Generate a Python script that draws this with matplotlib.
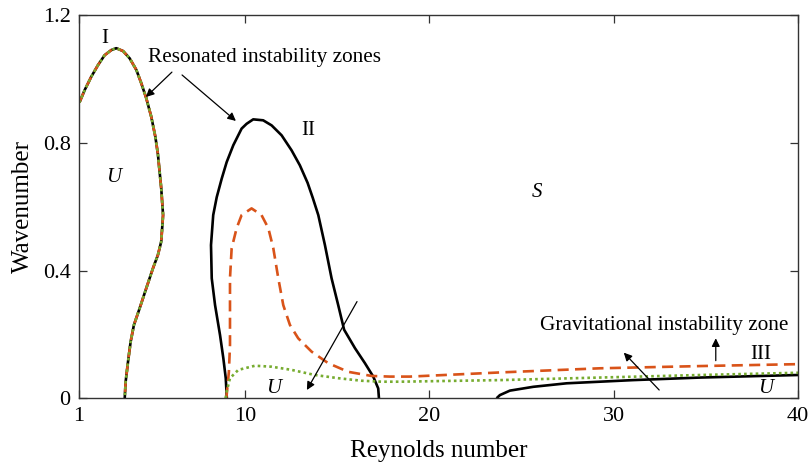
import matplotlib
matplotlib.use("Agg")
import matplotlib.pyplot as plt

plt.rcParams["font.family"] = ["Liberation Serif", "DejaVu Serif"]

# Zone I: all three criteria share the same neutral curve
zone1_re = [1.0, 1.04, 1.31, 1.67, 2.03, 2.39, 2.75, 3.02, 3.39, 3.75, 4.11, 4.38,
            4.65, 4.92, 5.14, 5.28, 5.46, 5.56, 5.46, 5.28, 5.01, 4.65, 4.29, 3.98,
            3.80, 3.66, 3.53, 3.48]
zone1_k = [0.933, 0.929, 0.966, 1.008, 1.044, 1.075, 1.091, 1.097, 1.088, 1.065,
           1.029, 0.987, 0.940, 0.882, 0.820, 0.765, 0.658, 0.574, 0.491, 0.449,
           0.407, 0.345, 0.282, 0.230, 0.177, 0.115, 0.052, 0.0]

# Zone II, solid criterion
solid2_re = [9.02, 8.96, 8.83, 8.65, 8.38, 8.2, 8.16, 8.28, 8.47, 8.74, 9.01, 9.37,
             9.82, 10.09, 10.45, 10.99, 11.45, 11.99, 12.53, 12.98, 13.40, 13.68,
             13.98, 14.34, 14.70, 15.06, 15.38, 15.97, 16.51, 16.96, 17.23, 17.27]
solid2_k = [0.0, 0.063, 0.125, 0.198, 0.292, 0.376, 0.480, 0.574, 0.630, 0.688,
            0.740, 0.793, 0.845, 0.860, 0.874, 0.871, 0.855, 0.824, 0.777, 0.730,
            0.675, 0.628, 0.574, 0.480, 0.376, 0.292, 0.215, 0.157, 0.110, 0.068,
            0.031, 0.0]

# Zone III, solid criterion
solid3_re = [23.65, 23.83, 24.37, 25.64, 27.45, 31.06, 34.7, 40.0]
solid3_k = [0.0, 0.01, 0.024, 0.036, 0.047, 0.057, 0.065, 0.073]

# Dashed criterion beyond zone I
dashed_re = [8.98, 9.01, 9.13, 9.19, 9.19, 9.19, 9.28, 9.55, 9.82, 10.36, 10.9,
             11.27, 11.54, 11.81, 12.08, 12.44, 12.89, 13.62, 14.52, 15.6, 16.87,
             17.86, 18.95, 23.83, 29.25, 34.7, 40.0]
dashed_k = [0.0, 0.010, 0.083, 0.167, 0.271, 0.376, 0.470, 0.533, 0.574, 0.595,
            0.574, 0.533, 0.470, 0.376, 0.292, 0.230, 0.188, 0.146, 0.110, 0.083,
            0.070, 0.068, 0.068, 0.081, 0.094, 0.101, 0.107]

# Dotted criterion beyond zone I
dotted_re = [8.95, 9.01, 9.19, 9.64, 10.54, 11.45, 12.53, 13.8, 15.06, 16.33, 17.42,
             18.4, 23.83, 29.25, 34.7, 40.0]
dotted_k = [0.0, 0.021, 0.063, 0.089, 0.102, 0.099, 0.089, 0.073, 0.063, 0.055,
            0.052, 0.052, 0.057, 0.065, 0.073, 0.080]

x_ticks = [1, 10, 20, 30, 40]
y_ticks = [0, 0.4, 0.8, 1.2]
y_tick_labels = ["0", "0.4", "0.8", "1.2"]

BLACK = "#000000"
ORANGE = "#D95319"
GREEN = "#77AC30"
AXC = "#333333"

fig = plt.figure(figsize=(8.08, 4.62), dpi=100)
ax = fig.add_axes([79 / 808, 1 - 398.3 / 462, (798 - 79) / 808, (398.3 - 15.3) / 462])

lw = 1.9
solid_kw = dict(color=BLACK, lw=lw, solid_capstyle="butt", solid_joinstyle="round")
dash_kw = dict(color=ORANGE, lw=lw, dashes=(4.2, 2.4))
dot_kw = dict(color=GREEN, lw=lw, dashes=(1.0, 1.2))

ax.plot(zone1_re, zone1_k, **solid_kw)
ax.plot(solid2_re, solid2_k, **solid_kw)
ax.plot(solid3_re, solid3_k, **solid_kw)
ax.plot(zone1_re, zone1_k, **dash_kw)
ax.plot(dashed_re, dashed_k, **dash_kw)
ax.plot(zone1_re, zone1_k, **dot_kw)
ax.plot(dotted_re, dotted_k, **dot_kw)

ax.set_xlim(1, 40)
ax.set_ylim(0, 1.2)
ax.set_xticks(x_ticks)
ax.set_xticklabels([str(t) for t in x_ticks])
ax.set_yticks(y_ticks)
ax.set_yticklabels(y_tick_labels)

ax.tick_params(direction="in", top=True, right=True, length=6, width=0.9,
               color=AXC, labelsize=16, pad=6)
for s in ax.spines.values():
    s.set_color(AXC)
    s.set_linewidth(1.0)

ax.set_xlabel("Reynolds number", fontsize=18)
ax.set_ylabel("Wavenumber", fontsize=18)
ax.xaxis.set_label_coords(0.5, -0.108)
ax.yaxis.set_label_coords(-0.062, 0.5)

# Region labels
tkw = dict(fontsize=15, ha="center", va="baseline")
ax.text(2.41, 1.112, "I", **tkw)
ax.text(13.44, 0.825, "II", **tkw)
ax.text(37.97, 0.122, "III", **tkw)
ax.text(2.86, 0.679, "U", style="italic", **tkw)
ax.text(11.54, 0.0175, "U", style="italic", **tkw)
ax.text(38.25, 0.0157, "U", style="italic", **tkw)
ax.text(25.82, 0.632, "S", style="italic", **tkw)

ax.text(11.06, 1.0545, "Resonated instability zones", fontsize=15.3,
        ha="center", va="baseline")
ax.text(32.72, 0.214, "Gravitational instability zone", fontsize=15.3,
        ha="center", va="baseline")

akw = dict(arrowstyle="-|>", color=BLACK, lw=0.9, mutation_scale=12,
           shrinkA=0, shrinkB=0)
ax.annotate("", xy=(4.63, 0.944), xytext=(6.04, 1.022), arrowprops=akw)
ax.annotate("", xy=(9.51, 0.869), xytext=(6.59, 1.013), arrowprops=akw)
ax.annotate("", xy=(13.36, 0.026), xytext=(16.08, 0.303), arrowprops=akw)
ax.annotate("", xy=(35.54, 0.188), xytext=(35.54, 0.118), arrowprops=akw)
ax.annotate("", xy=(30.55, 0.143), xytext=(32.47, 0.026), arrowprops=akw)

fig.savefig("out.png", dpi=100)
